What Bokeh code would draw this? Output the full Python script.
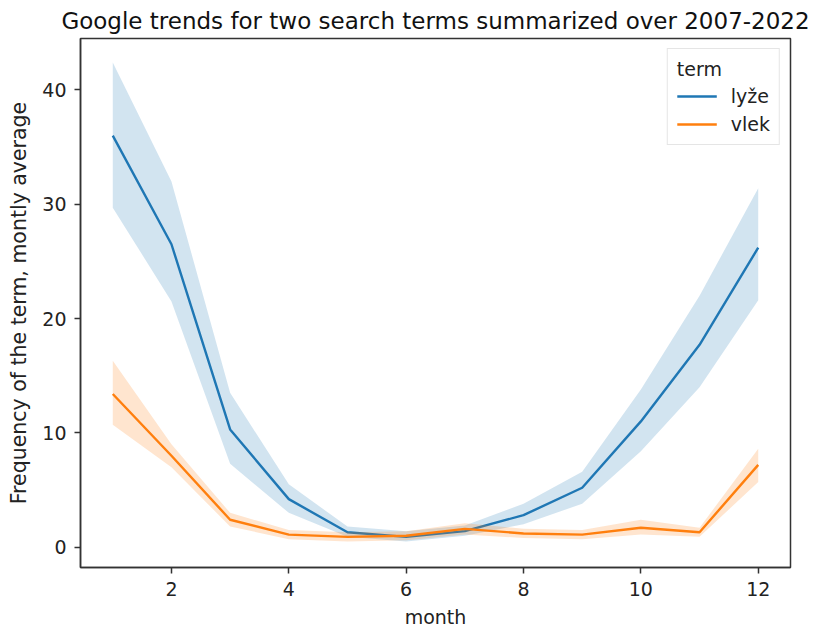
from bokeh.plotting import figure
from bokeh.models import ColumnDataSource, Legend, LegendItem, Range1d, FixedTicker
from bokeh.embed import file_html
from bokeh.resources import INLINE

months = [1, 2, 3, 4, 5, 6, 7, 8, 9, 10, 11, 12]

lyze_mean = [36.0, 26.5, 10.3, 4.2, 1.3, 0.9, 1.4, 2.8, 5.2, 11.0, 17.7, 26.2]
lyze_low = [29.7, 21.5, 7.3, 3.0, 0.9, 0.5, 1.0, 2.0, 3.8, 8.4, 14.0, 21.6]
lyze_high = [42.4, 32.0, 13.5, 5.5, 1.8, 1.4, 1.9, 3.8, 6.6, 13.8, 22.0, 31.4]

vlek_mean = [13.4, 8.0, 2.4, 1.1, 0.9, 1.0, 1.6, 1.2, 1.1, 1.7, 1.3, 7.2]
vlek_low = [10.7, 7.0, 1.8, 0.7, 0.5, 0.6, 1.1, 0.8, 0.7, 1.1, 0.9, 5.7]
vlek_high = [16.3, 9.0, 3.0, 1.5, 1.3, 1.4, 2.1, 1.6, 1.5, 2.4, 1.7, 8.6]

terms = ["lyže", "vlek"]
colors = ["#1f77b4", "#ff7f0e"]

x_ticks = [2, 4, 6, 8, 10, 12]
y_ticks = [0, 10, 20, 30, 40]

FONT = "DejaVu Sans"

p = figure(
    width=823, height=628,
    frame_width=710, frame_height=529,
    x_range=Range1d(0.45, 12.55), y_range=Range1d(-1.78, 44.5),
    output_backend="svg", toolbar_location=None,
    min_border_left=80, min_border_right=33, min_border_top=10, min_border_bottom=20,
    title="Google trends for two search terms summarized over 2007-2022",
)

p.title.text_font = FONT
p.title.text_font_size = "23px"
p.title.text_font_style = "normal"
p.title.align = "center"
p.title.text_color = "#111111"
p.title.offset = -4

p.xgrid.visible = False
p.ygrid.visible = False
p.outline_line_color = "#333333"
p.outline_line_width = 1.5

for ax in (p.xaxis[0], p.yaxis[0]):
    ax.axis_line_color = "#333333"
    ax.axis_line_width = 1.5
    ax.major_tick_line_color = "#333333"
    ax.major_tick_line_width = 1.5
    ax.major_tick_out = 6
    ax.major_tick_in = 0
    ax.minor_tick_line_color = None
    ax.major_label_text_font = FONT
    ax.major_label_text_font_size = "19px"
    ax.major_label_text_color = "#222222"
    ax.major_label_standoff = 8
    ax.axis_label_text_font = FONT
    ax.axis_label_text_font_style = "normal"
    ax.axis_label_text_color = "#222222"

p.xaxis.axis_label_text_font_size = "19px"
p.yaxis.axis_label_text_font_size = "20.5px"
p.xaxis.axis_label_standoff = 7
p.yaxis.axis_label_standoff = 8

p.xaxis.ticker = FixedTicker(ticks=x_ticks)
p.yaxis.ticker = FixedTicker(ticks=y_ticks)
p.xaxis.axis_label = "month"
p.yaxis.axis_label = "Frequency of the term, montly average"

items = []
for term, color, mean, low, high in zip(
    terms, colors, [lyze_mean, vlek_mean], [lyze_low, vlek_low], [lyze_high, vlek_high]
):
    src = ColumnDataSource(dict(x=months, y=mean, lo=low, hi=high))
    p.varea(x="x", y1="lo", y2="hi", source=src, fill_color=color, fill_alpha=0.2)
    r = p.line(x="x", y="y", source=src, line_color=color, line_width=2.4)
    items.append(LegendItem(label=term, renderers=[r]))

legend = Legend(items=items, location="top_right", title="term")
legend.title_text_font = FONT
legend.title_text_font_size = "19px"
legend.title_text_font_style = "normal"
legend.title_text_color = "#222222"
legend.label_text_font = FONT
legend.label_text_font_size = "19px"
legend.label_text_color = "#222222"
legend.border_line_color = "#cccccc"
legend.border_line_width = 1
legend.background_fill_alpha = 0.8
legend.glyph_width = 40
legend.label_standoff = 14
legend.padding = 9
legend.spacing = 6
legend.margin = 10
p.add_layout(legend)

open("out.html", "w").write(file_html(p, INLINE))
